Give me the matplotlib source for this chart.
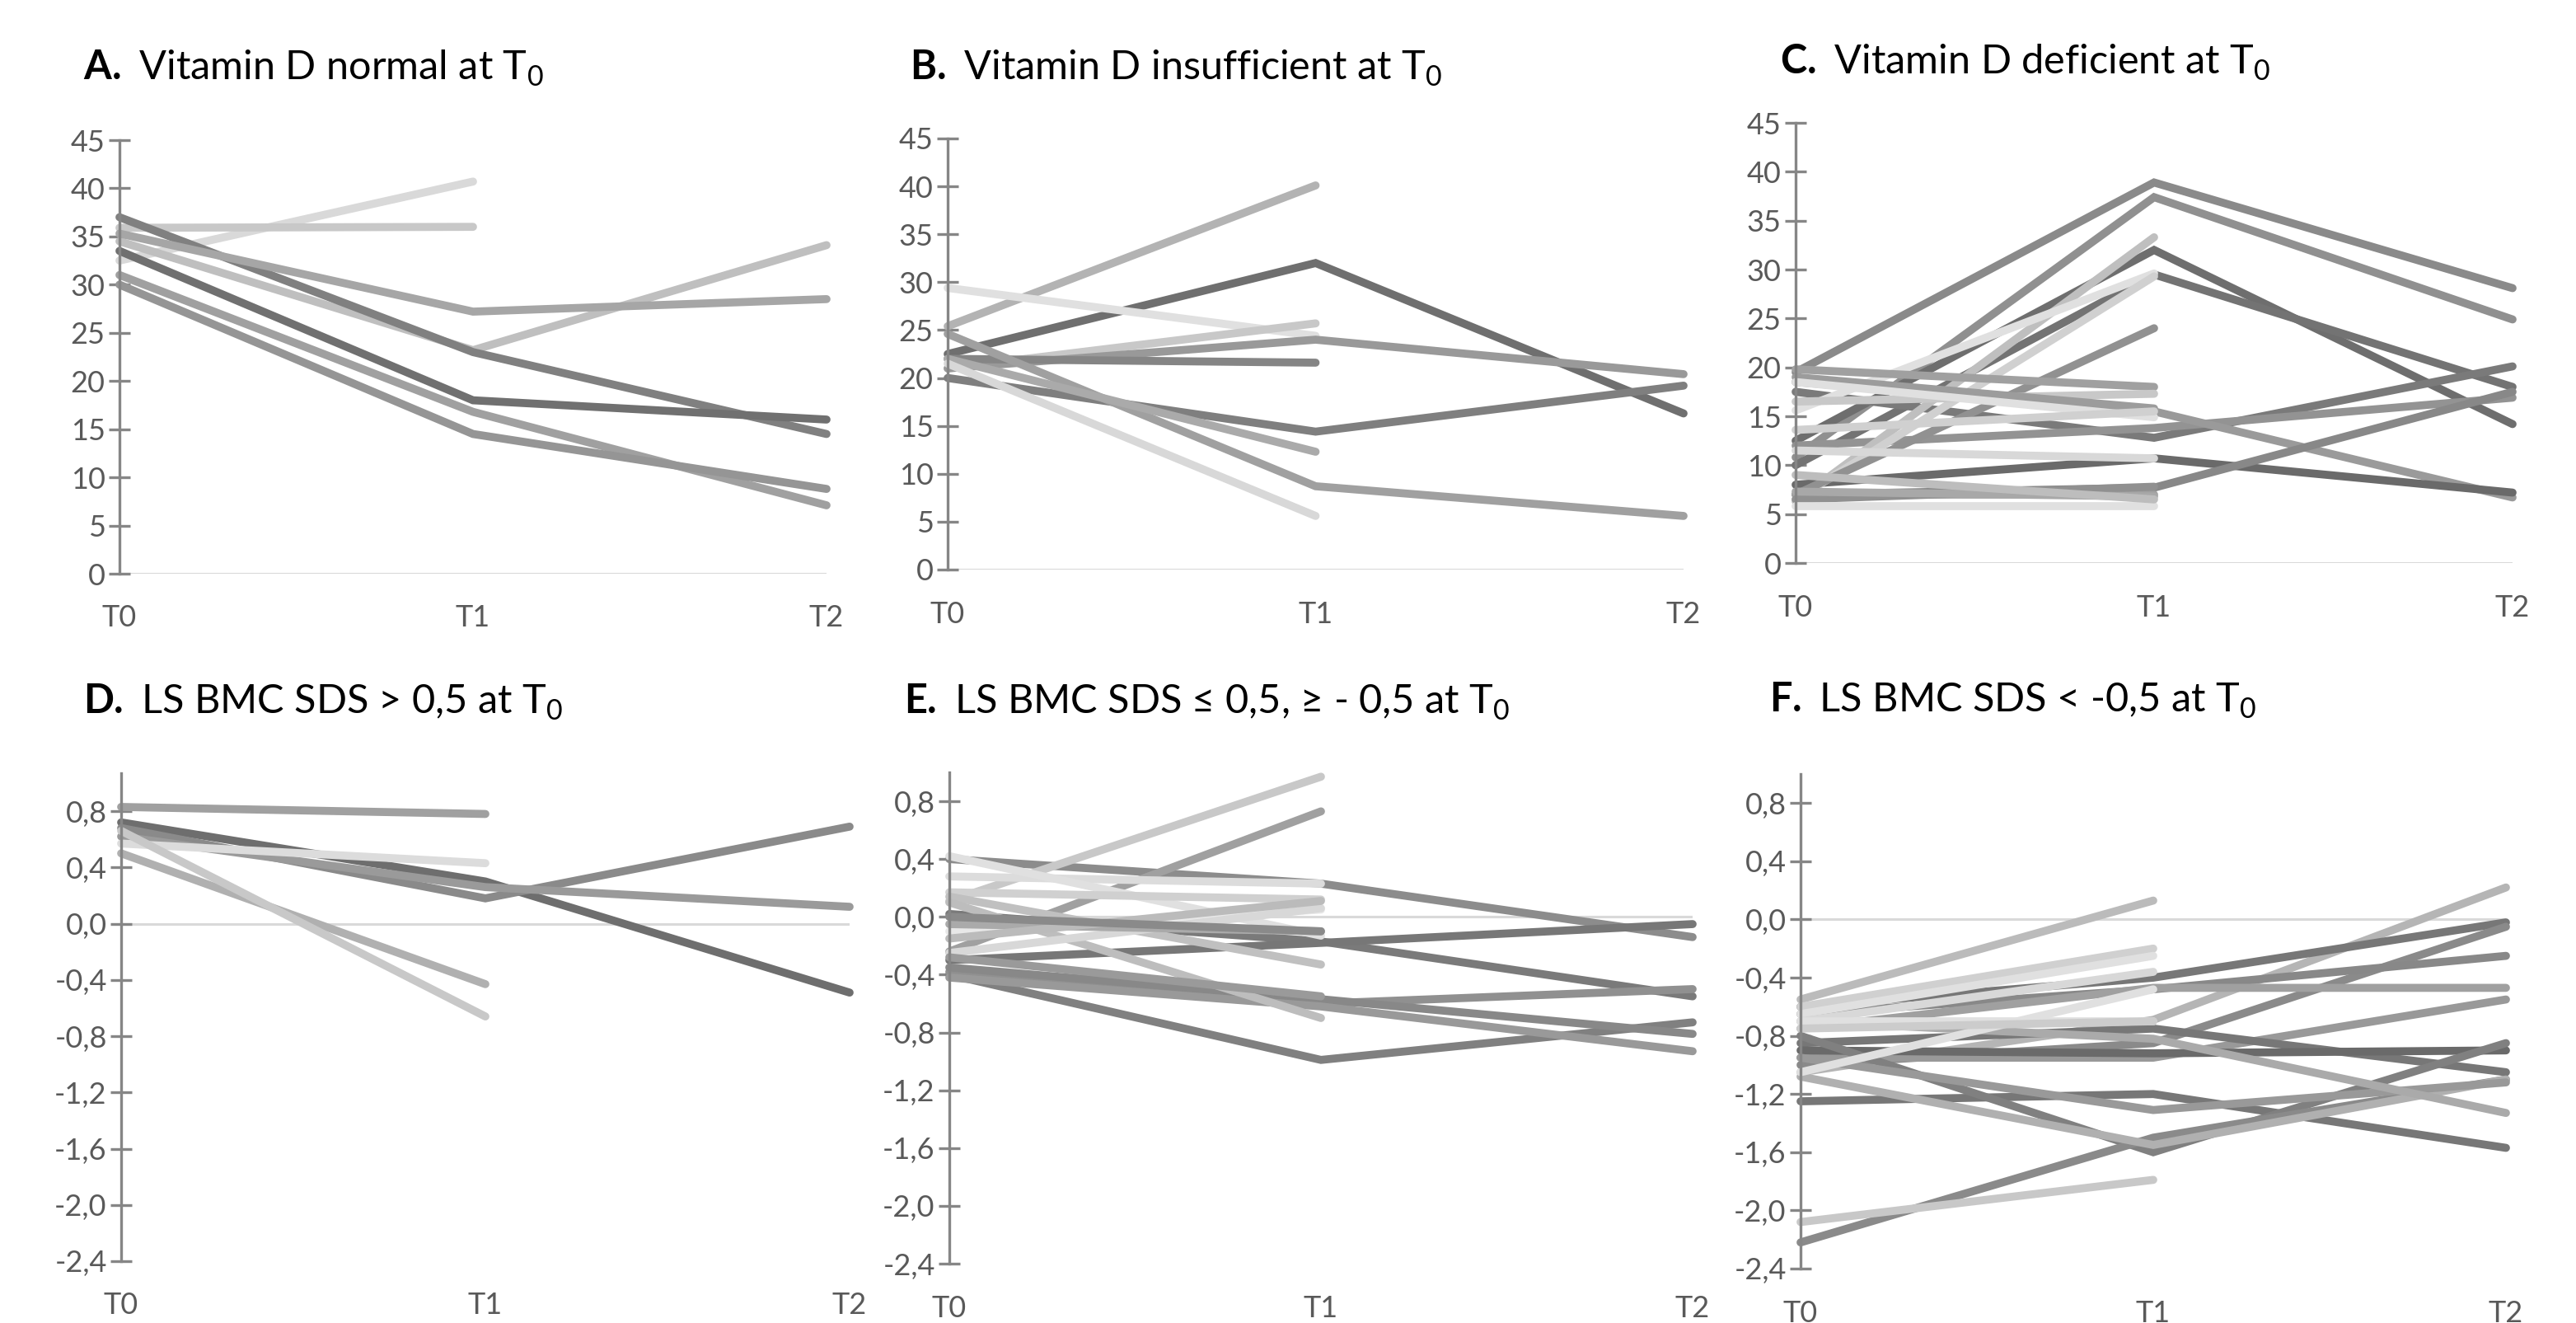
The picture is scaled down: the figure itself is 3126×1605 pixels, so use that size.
import numpy as np
import matplotlib
matplotlib.use("Agg")
import matplotlib.pyplot as plt

nan = np.nan

# time points
timepoints = ["T0", "T1", "T2"]

# A. Vitamin D normal at T0 (nmol/l)
a_t0 = [32.5, 35.9, 34.5, 37.0, 35.3, 33.5, 31.0, 30.0]
a_t1 = [40.7, 36.0, 23.2, 23.0, 27.2, 18.0, 16.8, 14.5]
a_t2 = [nan, nan, 34.1, 14.5, 28.5, 16.0, 7.1, 8.8]

# B. Vitamin D insufficient at T0
b_t0 = [25.4, 22.5, 29.4, 21.0, 21.0, 22.0, 20.0, 24.6, 22.0, 21.5]
b_t1 = [40.1, 32.0, 24.4, 25.7, 24.0, 21.6, 14.4, 8.7, 12.3, 5.6]
b_t2 = [nan, 16.3, nan, nan, 20.4, nan, 19.2, 5.6, nan, nan]

# C. Vitamin D deficient at T0
c_t0 = [19.5, 10.8, 12.5, 10.0, 17.5, 12.0, 18.5, 8.0, 7.0,
        6.3, 15.6, 6.5, 7.0, 19.8, 16.5, 19.0, 18.5, 13.6, 11.5, 7.0, 6.5, 7.3, 5.8, 9.0]
c_t1 = [38.9, 37.4, 32.0, 29.5, 12.8, 13.8, 15.5, 10.7, 7.7,
        33.3, 29.6, 29.3, 24.0, 18.0, 17.3, 15.8, 14.9, 15.5, 10.7, 7.0, 7.8, 6.8, 5.8, 6.5]
c_t2 = [28.1, 24.9, 14.2, 18.0, 20.1, 16.9, 6.7, 7.2, 17.5,
        nan, nan, nan, nan, nan, nan, nan, nan, nan, nan, nan, nan, nan, nan, nan]

# D. LS BMC SDS > 0,5 at T0
d_t0 = [0.83, 0.72, 0.68, 0.62, 0.57, 0.50, 0.66]
d_t1 = [0.78, 0.30, 0.18, 0.26, 0.43, -0.43, -0.66]
d_t2 = [nan, -0.49, 0.69, 0.12, nan, nan, nan]

# E. LS BMC SDS between -0,5 and 0,5 at T0
e_t0 = [0.40, 0.02, -0.30, -0.40, -0.38, -0.35, -0.42,
        0.11, -0.24, 0.28, 0.42, 0.17, 0.14, 0.10, -0.10, -0.25, -0.05, -0.15, 0.00, -0.28]
e_t1 = [0.23, -0.17, -0.18, -0.99, -0.60, -0.57, -0.62,
        0.97, 0.73, 0.23, -0.13, 0.12, -0.33, -0.70, 0.05, 0.06, -0.10, 0.11, -0.10, -0.55]
e_t2 = [-0.14, -0.55, -0.05, -0.73, -0.50, -0.81, -0.93,
        nan, nan, nan, nan, nan, nan, nan, nan, nan, nan, nan, nan, nan]

# F. LS BMC SDS < -0,5 at T0
f_t0 = [-1.05, -0.60, -1.00, -0.65, -0.75, -0.95, -0.85, -0.90, -1.25, -0.80, -2.22, -1.08, -0.95, -0.70,
        -0.55, -0.60, -0.65, -0.70, -1.05, -0.70, -2.08, -0.75]
f_t1 = [-0.69, -0.40, -0.85, -0.48, -0.47, -0.95, -0.75, -0.92, -1.20, -1.60, -1.50, -1.55, -1.31, -0.82,
        0.13, -0.20, -0.25, -0.36, -0.48, -0.70, -1.79, -0.70]
f_t2 = [0.22, -0.02, -0.05, -0.25, -0.47, -0.55, -1.05, -0.90, -1.57, -0.85, -1.10, -1.10, -1.12, -1.33,
        nan, nan, nan, nan, nan, nan, nan, nan]

# grey shades per line
a_colors = ['#d9d9d9', '#c8c8c8', '#bfbfbf', '#808080', '#a6a6a6', '#707070', '#a0a0a0', '#959595']
b_colors = ['#b3b3b3', '#6f6f6f', '#e0e0e0', '#c8c8c8', '#999999', '#858585', '#7f7f7f', '#a0a0a0',
            '#aaaaaa', '#d8d8d8']
c_colors = ['#8a8a8a', '#909090', '#6e6e6e', '#737373', '#7a7a7a', '#939393', '#9a9a9a', '#6a6a6a', '#888888',
            '#bfbfbf', '#e0e0e0', '#d0d0d0', '#919191', '#a0a0a0', '#c8c8c8', '#9c9c9c', '#e0e0e0', '#d0d0d0',
            '#d8d8d8', '#a0a0a0', '#909090', '#a8a8a8', '#e0e0e0', '#bdbdbd']
d_colors = ['#a0a0a0', '#6e6e6e', '#8a8a8a', '#9a9a9a', '#dcdcdc', '#b0b0b0', '#c8c8c8']
e_colors = ['#8c8c8c', '#7a7a7a', '#777777', '#808080', '#909090', '#888888', '#999999',
            '#c8c8c8', '#a0a0a0', '#dcdcdc', '#e0e0e0', '#d0d0d0', '#c0c0c0', '#bdbdbd', '#e8e8e8',
            '#d8d8d8', '#aaaaaa', '#bbbbbb', '#8a8a8a', '#9a9a9a']
f_colors = ['#b5b5b5', '#777777', '#8a8a8a', '#888888', '#a0a0a0', '#999999', '#777777', '#6a6a6a',
            '#777777', '#808080', '#8a8a8a', '#b0b0b0', '#999999', '#aaaaaa',
            '#bbbbbb', '#d0d0d0', '#e0e0e0', '#d8d8d8', '#e0e0e0', '#e0e0e0', '#c8c8c8', '#cccccc']

plt.rcParams['font.family'] = ['Lato', 'DejaVu Sans']
plt.rcParams['mathtext.fontset'] = 'custom'
plt.rcParams['mathtext.rm'] = 'Lato'
plt.rcParams['mathtext.bf'] = 'Lato:bold'

W, H = 3126, 1605
fig = plt.figure(figsize=(W / 100, H / 100), dpi=100)

AXIS_GREY = '#868686'
TICK_GREY = '#595959'


def add_panel(left, right, top, bottom, ylim, yticks, t0, t1, t2, colors, sds=False):
    ax = fig.add_axes([left / W, 1 - bottom / H, (right - left) / W, (bottom - top) / H])
    ax.set_xlim(0, 2)
    ax.set_ylim(*ylim)
    for s in ['top', 'right', 'bottom']:
        ax.spines[s].set_visible(False)
    ax.spines['left'].set_color(AXIS_GREY)
    ax.spines['left'].set_linewidth(2.4)
    ax.axhline(0, color='#d9d9d9', lw=2.2, zorder=0)
    x = np.arange(3)
    for i in range(len(t0)):
        y = np.array([t0[i], t1[i], t2[i]])
        ax.plot(x, y, color=colors[i], lw=7, solid_capstyle='round',
                solid_joinstyle='miter', clip_on=False)
    ax.set_yticks(yticks)
    if sds:
        ax.set_yticklabels([f"{v:.1f}".replace('.', ',').replace('-0,0', '0,0') for v in yticks])
    else:
        ax.set_yticklabels([str(v) for v in yticks])
    ax.tick_params(axis='y', direction='inout', length=19, width=2.4, color=AXIS_GREY,
                   labelsize=26, labelcolor=TICK_GREY, pad=3)
    ax.set_xticks(x)
    ax.set_xticklabels(timepoints)
    ax.tick_params(axis='x', length=0, labelsize=26, labelcolor=TICK_GREY, pad=27)
    return ax


vit_ticks = list(range(0, 50, 5))
sds_ticks = [0.8, 0.4, 0.0, -0.4, -0.8, -1.2, -1.6, -2.0, -2.4]

add_panel(145, 1003, 170, 696, (0, 45), vit_ticks, a_t0, a_t1, a_t2, a_colors)
add_panel(1150, 2043, 168, 691, (0, 45), vit_ticks, b_t0, b_t1, b_t2, b_colors)
add_panel(2179, 3049, 149, 683, (0, 45), vit_ticks, c_t0, c_t1, c_t2, c_colors)
add_panel(147, 1031, 938, 1530, (-2.4, 1.07), sds_ticks, d_t0, d_t1, d_t2, d_colors, sds=True)
add_panel(1152, 2054, 937, 1533, (-2.4, 1.0), sds_ticks, e_t0, e_t1, e_t2, e_colors, sds=True)
add_panel(2185, 3041, 939, 1539, (-2.4, 1.0), sds_ticks, f_t0, f_t1, f_t2, f_colors, sds=True)

titles = [
    (101, 83, r"$\mathbf{A.}$ Vitamin D normal at $\mathrm{T}_{0}$"),
    (1104, 83, r"$\mathbf{B.}$ Vitamin D insufficient at $\mathrm{T}_{0}$"),
    (2160, 76, r"$\mathbf{C.}$ Vitamin D deficient at $\mathrm{T}_{0}$"),
    (101, 852, r"$\mathbf{D.}$ LS BMC SDS > 0,5 at $\mathrm{T}_{0}$"),
    (1097, 852, r"$\mathbf{E.}$ LS BMC SDS ≤ 0,5, ≥ - 0,5 at $\mathrm{T}_{0}$"),
    (2147, 850, r"$\mathbf{F.}$ LS BMC SDS < -0,5 at $\mathrm{T}_{0}$"),
]
for tx, ty, label in titles:
    fig.text(tx / W, 1 - ty / H, label, fontsize=35, color='black', ha='left', va='center')

fig.savefig("out.png", dpi=100, facecolor='white')
